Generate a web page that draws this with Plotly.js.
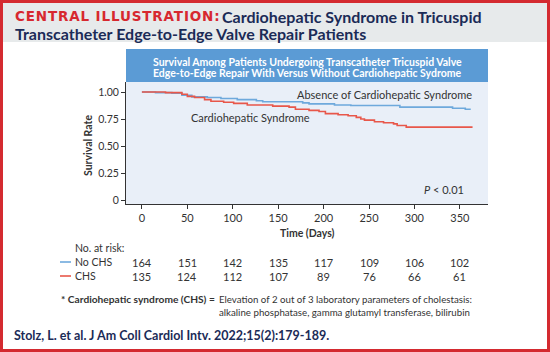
<!DOCTYPE html>
<html>
<head>
<meta charset="utf-8">
<script src="https://cdn.plot.ly/plotly-3.0.1.min.js"></script>
<style>html,body{margin:0;padding:0;background:#fff;}#chart{width:550px;height:352px;}</style>
</head>
<body>
<div id="chart"></div>
<script>
// ---- data ----
var noChsDays = [0, 15, 33, 44, 55, 72, 87, 105, 126, 133, 177, 184, 212, 230, 284, 342, 356, 362];
var noChsSurv = [1.0, 0.995, 0.99, 0.97, 0.955, 0.95, 0.94, 0.93, 0.92, 0.91, 0.90, 0.89, 0.88, 0.875, 0.86, 0.85, 0.84, 0.84];
var chsDays = [0, 26, 44, 50, 58, 69, 76, 90, 101, 116, 144, 162, 169, 184, 195, 202, 216, 227, 236, 241, 245, 256, 266, 277, 281, 291, 364];
var chsSurv = [1.0, 0.995, 0.98, 0.96, 0.95, 0.93, 0.915, 0.905, 0.895, 0.88, 0.87, 0.86, 0.84, 0.83, 0.82, 0.80, 0.79, 0.78, 0.765, 0.75, 0.74, 0.725, 0.715, 0.705, 0.69, 0.675, 0.675];
var riskTimes = [0, 50, 100, 150, 200, 250, 300, 350];
var riskNoChs = [164, 151, 142, 135, 117, 109, 106, 102];
var riskChs = [135, 124, 112, 107, 89, 76, 66, 61];
var xTicks = [0, 50, 100, 150, 200, 250, 300, 350];
var yTicks = [0, 0.25, 0.5, 0.75, 1.0];
var yTickText = ['0', '0.25', '0.50', '0.75', '1.00'];

// ---- layout helpers (pixel -> paper) ----
var L = 126, R = 488, T = 82, B = 204;
function px(x) { return (x - L) / (R - L); }
function py(y) { return (B - y) / (B - T); }

var navy = '#1b2b57';
var red = '#d7282f';
var blueLine = '#6ea9dc';
var redLine = '#e8574a';
var font = 'Lato, "Open Sans", sans-serif';

var traces = [
  {x: noChsDays, y: noChsSurv, type: 'scatter', mode: 'lines', line: {shape: 'hv', color: blueLine, width: 1.6}, hoverinfo: 'skip', showlegend: false},
  {x: chsDays, y: chsSurv, type: 'scatter', mode: 'lines', line: {shape: 'hv', color: redLine, width: 1.6}, hoverinfo: 'skip', showlegend: false}
];

var ann = [];
function add(o) { ann.push(Object.assign({showarrow: false, xref: 'paper', yref: 'paper'}, o)); }

// header
add({x: px(13), y: py(16), xanchor: 'left', yanchor: 'middle',
  text: '<b><span style="letter-spacing:0.85px">CENTRAL ILLUSTRATION:</span></b>',
  font: {family: '"DejaVu Sans", sans-serif', size: 13.5, color: red}});
add({x: px(220), y: py(16), xanchor: 'left', yanchor: 'middle',
  text: '<b>Cardiohepatic Syndrome in Tricuspid</b>', font: {family: font, size: 16, color: navy}});
add({x: px(13), y: py(33), xanchor: 'left', yanchor: 'middle',
  text: '<b>Transcatheter Edge-to-Edge Valve Repair Patients</b>', font: {family: font, size: 16, color: navy}});
// blue box title
add({x: px(307), y: py(61.5), xanchor: 'center', yanchor: 'middle',
  text: '<b>Survival Among Patients Undergoing Transcatheter Tricuspid Valve</b>', font: {family: font, size: 10.5, color: '#ffffff'}});
add({x: px(307), y: py(73), xanchor: 'center', yanchor: 'middle',
  text: '<b>Edge-to-Edge Repair With Versus Without Cardiohepatic Sydrome</b>', font: {family: font, size: 10.5, color: '#ffffff'}});
// curve labels
ann.push({x: 267, y: 0.978, xref: 'x', yref: 'y', showarrow: false, xanchor: 'center', yanchor: 'middle',
  text: 'Absence of Cardiohepatic Syndrome', font: {family: font, size: 11, color: '#333'}});
ann.push({x: 119, y: 0.762, xref: 'x', yref: 'y', showarrow: false, xanchor: 'center', yanchor: 'middle',
  text: 'Cardiohepatic Syndrome', font: {family: font, size: 11, color: '#333'}});
ann.push({x: 357, y: 0.10, xref: 'x', yref: 'y', showarrow: false, xanchor: 'right', yanchor: 'middle',
  text: '<i>P</i> < 0.01', font: {family: font, size: 11, color: '#333'}});
// axis titles
add({x: px(307), y: py(233), xanchor: 'center', yanchor: 'middle',
  text: '<b>Time (Days)</b>', font: {family: font, size: 10.5, color: '#333'}});
add({x: px(88), y: py(146), xanchor: 'center', yanchor: 'middle', textangle: -90,
  text: '<b>Survival Rate</b>', font: {family: font, size: 10.5, color: '#333'}});
// risk table
add({x: px(73), y: py(248), xanchor: 'left', yanchor: 'middle',
  text: 'No. at risk:', font: {family: font, size: 10.5, color: '#333'}});
add({x: px(73), y: py(262), xanchor: 'left', yanchor: 'middle',
  text: 'No CHS', font: {family: font, size: 10.5, color: '#333'}});
add({x: px(73), y: py(276), xanchor: 'left', yanchor: 'middle',
  text: 'CHS', font: {family: font, size: 10.5, color: '#333'}});
for (var i = 0; i < riskTimes.length; i++) {
  ann.push({x: riskTimes[i], y: py(262), xref: 'x', yref: 'paper', showarrow: false, xanchor: 'center', yanchor: 'middle',
    text: String(riskNoChs[i]), font: {family: font, size: 11, color: '#333'}});
  ann.push({x: riskTimes[i], y: py(276), xref: 'x', yref: 'paper', showarrow: false, xanchor: 'center', yanchor: 'middle',
    text: String(riskChs[i]), font: {family: font, size: 11, color: '#333'}});
}
// footnote
add({x: px(219), y: py(299), xanchor: 'right', yanchor: 'middle',
  text: '<b>* Cardiohepatic syndrome (CHS) = </b>', font: {family: font, size: 10.2, color: '#333'}});
add({x: px(217), y: py(299), xanchor: 'left', yanchor: 'middle',
  text: 'Elevation of 2 out of 3 laboratory parameters of cholestasis:', font: {family: font, size: 9.7, color: '#333'}});
add({x: px(217), y: py(312), xanchor: 'left', yanchor: 'middle',
  text: 'alkaline phosphatase, gamma glutamyl transferase, bilirubin', font: {family: font, size: 9.7, color: '#333'}});
// citation
add({x: px(12), y: py(335), xanchor: 'left', yanchor: 'middle',
  text: '<b>Stolz, L. et al. J Am Coll Cardiol Intv. 2022;15(2):179-189.</b>', font: {family: font, size: 12.5, color: navy}});

var shapes = [
  {type: 'rect', xref: 'paper', yref: 'paper', x0: px(2), x1: px(548), y0: py(2), y1: py(42), fillcolor: '#e7eaeb', line: {width: 0}, layer: 'below'},
  {type: 'rect', xref: 'paper', yref: 'paper', x0: px(126), x1: px(488), y0: py(49), y1: py(82), fillcolor: '#5b9bd5', line: {width: 0}},
  {type: 'line', xref: 'paper', yref: 'paper', x0: px(60), x1: px(71), y0: py(262), y1: py(262), line: {color: blueLine, width: 1.6}},
  {type: 'line', xref: 'paper', yref: 'paper', x0: px(60), x1: px(71), y0: py(276), y1: py(276), line: {color: redLine, width: 1.6}},
  {type: 'rect', xref: 'paper', yref: 'paper', x0: px(1.5), x1: px(548.5), y0: py(1.5), y1: py(350.5), fillcolor: 'rgba(0,0,0,0)', line: {color: '#d42a30', width: 3}}
];

var layout = {
  width: 550, height: 352,
  margin: {l: L, r: 550 - R, t: T, b: 352 - B, pad: 0},
  paper_bgcolor: '#ffffff',
  plot_bgcolor: '#e9eff8',
  font: {family: font, size: 11, color: '#333'},
  xaxis: {range: [-17.5, 381], tickvals: xTicks, ticktext: xTicks.map(String), showgrid: false, zeroline: false,
    showline: true, linecolor: '#333', linewidth: 1, ticks: 'outside', ticklen: 4, tickcolor: '#333',
    tickfont: {family: font, size: 11, color: '#333'}},
  yaxis: {range: [-0.037, 1.093], tickvals: yTicks, ticktext: yTickText, showgrid: false, zeroline: false,
    showline: true, linecolor: '#333', linewidth: 1, ticks: 'outside', ticklen: 4, tickcolor: '#333',
    tickfont: {family: font, size: 10.5, color: '#333'}},
  annotations: ann,
  shapes: shapes,
  showlegend: false
};

Plotly.newPlot('chart', traces, layout, {staticPlot: true, displayModeBar: false});
</script>
</body>
</html>
